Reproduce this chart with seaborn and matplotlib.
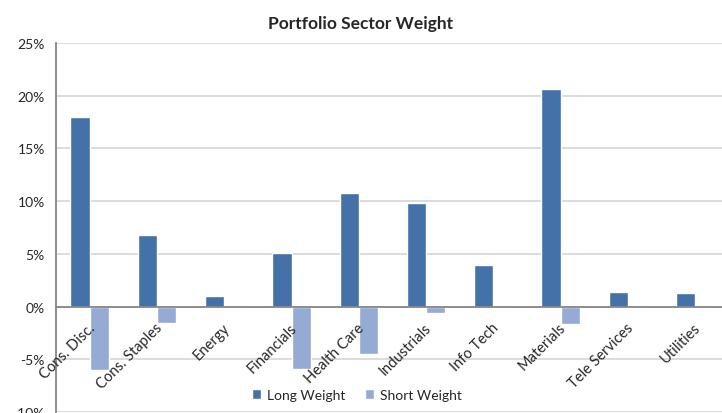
import pandas as pd
import numpy as np
import matplotlib.pyplot as plt
import matplotlib.transforms as mtransforms
import seaborn as sns

sectors = ["Cons. Disc.", "Cons. Staples", "Energy", "Financials", "Health Care",
           "Industrials", "Info Tech", "Materials", "Tele Services", "Utilities"]
long_weight = [18.0, 6.8, 1.0, 5.1, 10.8, 9.8, 3.9, 20.6, 1.4, 1.3]
short_weight = [-6.0, -1.6, 0.0, -5.9, -4.5, -0.6, 0.0, -1.7, 0.0, 0.0]
series = ["Long Weight", "Short Weight"]
colors = ["#4472A8", "#95ABD4"]
y_ticks = [-10, -5, 0, 5, 10, 15, 20, 25]

df = pd.DataFrame({
    "Sector": sectors * 2,
    "Weight": long_weight + short_weight,
    "Series": [series[0]] * len(sectors) + [series[1]] * len(sectors),
})

sns.set_style("white")
plt.rcParams["font.family"] = ["Lato", "DejaVu Sans"]

gray = "#868686"
fig = plt.figure(figsize=(7.22, 4.14), dpi=100)
ax = fig.add_axes([56 / 722, 1 / 414, 673 / 722, 369 / 414])

sns.barplot(data=df, x="Sector", y="Weight", hue="Series", palette=colors,
            width=0.574, saturation=1, errorbar=None, ax=ax)

ax.set_xlim(-0.5, len(sectors) - 0.5)
ax.set_ylim(-10, 25)
ax.set_yticks(y_ticks)
ax.set_yticklabels([f"{v}%" for v in y_ticks])
# gridlines behind the bars, axis (labels, spines) on top of them
for v in y_ticks:
    ax.axhline(v, color="#D9D9D9", lw=1.3, zorder=0)
ax.set_axisbelow(False)
ax.set_xlabel("")
ax.set_ylabel("")

for s in ["top", "right"]:
    ax.spines[s].set_visible(False)
ax.spines["left"].set_color(gray)
ax.spines["left"].set_linewidth(1.3)
ax.spines["bottom"].set_position(("data", 0))
ax.spines["bottom"].set_color(gray)
ax.spines["bottom"].set_linewidth(1.3)

ax.set_xticks(range(len(sectors)))
ax.set_xticklabels(sectors, rotation=45, ha="right", rotation_mode="anchor")
ax.set_xticks(np.arange(0.5, len(sectors) - 0.5, 1), minor=True)
ax.tick_params(axis="x", which="major", length=0, pad=9, labelsize=10.5)
ax.tick_params(axis="x", which="minor", length=5, width=1.3, color=gray, direction="out")
ax.tick_params(axis="y", length=5, width=1.3, color=gray, direction="out",
               labelsize=10, pad=3)

shift = mtransforms.ScaledTranslation(-2 / 100, -1 / 100, fig.dpi_scale_trans)
for lab in ax.get_xticklabels():
    lab.set_transform(lab.get_transform() + shift)

handles, labels = ax.get_legend_handles_labels()
ax.get_legend().remove()
fig.legend(handles, labels, loc="center", bbox_to_anchor=(0.494, 0.043), ncol=2,
           frameon=False, handlelength=0.7, handleheight=0.7, fontsize=10,
           columnspacing=1.4, handletextpad=0.4)

fig.text(0.5, 1 - 24 / 414, "Portfolio Sector Weight", ha="center", va="center",
         fontsize=12.5, fontweight="bold")

fig.savefig("out.png", dpi=100)
